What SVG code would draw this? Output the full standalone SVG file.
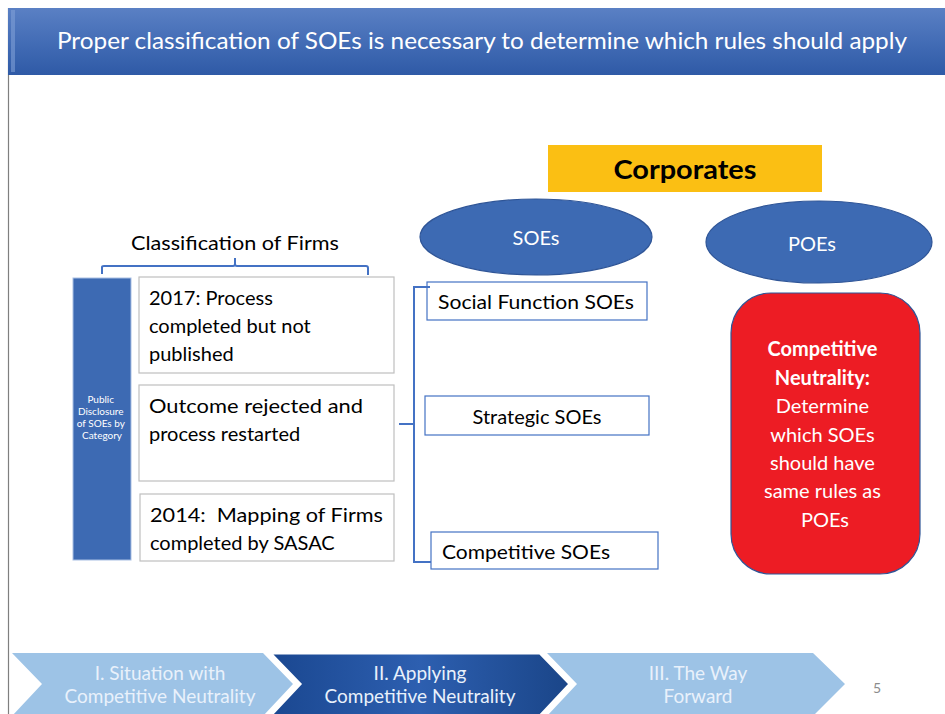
<svg xmlns="http://www.w3.org/2000/svg" width="945" height="714" viewBox="0 0 945 714">
<defs>
<linearGradient id="hdr" x1="0" y1="0" x2="0" y2="1">
<stop offset="0" stop-color="#5a80c4"/>
<stop offset="0.6" stop-color="#3f69b3"/>
<stop offset="1" stop-color="#2f5aa6"/>
</linearGradient>
<linearGradient id="dark" x1="0" y1="0" x2="1" y2="0">
<stop offset="0" stop-color="#1a4790"/>
<stop offset="0.5" stop-color="#2d5fb0"/>
<stop offset="1" stop-color="#1a4588"/>
</linearGradient>
</defs>
<style>
text{font-family:Lato,"Open Sans","Liberation Sans",sans-serif}
.box{fill:#ffffff;stroke:#bfbfbf;stroke-width:1.2}
.bbox{fill:#ffffff;stroke:#4472c4;stroke-width:1.2}
.t20{font-size:20px;fill:#000000}
.w20{font-size:20px;fill:#ffffff}
.ell{fill:#3d6ab3;stroke:#2f5597;stroke-width:1.2}
.conn{fill:none;stroke:#4472c4;stroke-width:2}
.chev{font-size:19px;fill:#e9f1fb;text-anchor:middle}
</style>
<rect width="945" height="714" fill="#ffffff"/>
<line x1="8.5" y1="8" x2="8.5" y2="714" stroke="#7f7f7f" stroke-width="1.2"/>

<g id="header">
<rect x="8" y="8" width="937" height="67" fill="url(#hdr)"/>
<rect x="11" y="10" width="4" height="62" fill="#7f9fd6" opacity="0.6"/>
<text x="482" y="49" font-size="23" fill="#ffffff" text-anchor="middle" textLength="850" lengthAdjust="spacingAndGlyphs">Proper classification of SOEs is necessary to determine which rules should apply</text>
</g>

<g id="corporates">
<rect x="548" y="145" width="274" height="47" fill="#fbbf13"/>
<text x="685" y="179" font-size="27" font-weight="bold" fill="#000000" text-anchor="middle" textLength="143" lengthAdjust="spacingAndGlyphs">Corporates</text>
</g>

<g id="soes">
<ellipse cx="536" cy="237" rx="116" ry="38" class="ell"/>
<text x="536" y="245" class="w20" text-anchor="middle">SOEs</text>
</g>

<g id="poes">
<ellipse cx="819" cy="242" rx="113" ry="41" class="ell"/>
<text x="812" y="251" class="w20" text-anchor="middle">POEs</text>
</g>

<g id="classification">
<text x="235" y="250" class="t20" text-anchor="middle" textLength="208" lengthAdjust="spacingAndGlyphs">Classification of Firms</text>
</g>

<g id="public-disclosure">
<rect x="73" y="278" width="58" height="282" fill="#3d6ab3" stroke="#a9bfe3" stroke-width="1"/>
<text font-size="10" fill="#ffffff" text-anchor="middle">
<tspan x="102" y="403">Public</tspan>
<tspan x="102" y="415">Disclosure</tspan>
<tspan x="102" y="427">of SOEs by</tspan>
<tspan x="102" y="439">Category</tspan>
</text>
</g>

<g id="box-2017">
<rect x="139" y="277" width="255" height="96" class="box"/>
<text class="t20">
<tspan x="149" y="305">2017: Process</tspan>
<tspan x="149" y="333">completed but not</tspan>
<tspan x="149" y="361">published</tspan>
</text>
</g>

<g id="box-outcome">
<rect x="139" y="385" width="255" height="96" class="box"/>
<text class="t20">
<tspan x="149" y="413" textLength="214" lengthAdjust="spacingAndGlyphs">Outcome rejected and</tspan>
<tspan x="149" y="441">process restarted</tspan>
</text>
</g>

<g id="box-2014">
<rect x="140" y="494" width="254" height="67" class="box"/>
<text class="t20">
<tspan x="150" y="522" textLength="233" lengthAdjust="spacingAndGlyphs" xml:space="preserve">2014:  Mapping of Firms</tspan>
<tspan x="150" y="550">completed by SASAC</tspan>
</text>
</g>

<g id="social">
<rect x="427" y="282" width="220" height="38" class="bbox"/>
<text x="438" y="309" class="t20" textLength="196" lengthAdjust="spacingAndGlyphs">Social Function SOEs</text>
</g>

<g id="strategic">
<rect x="425" y="396" width="224" height="39" class="bbox"/>
<text x="537" y="424" class="t20" text-anchor="middle">Strategic SOEs</text>
</g>

<g id="competitive">
<rect x="431" y="532" width="227" height="37" class="bbox"/>
<text x="442" y="559" class="t20" textLength="168" lengthAdjust="spacingAndGlyphs">Competitive SOEs</text>
</g>

<g id="neutrality">
<rect x="731" y="293" width="189" height="281" rx="40" ry="40" fill="#ed1c24" stroke="#2f5597" stroke-width="1.2"/>
<text class="w20" text-anchor="middle">
<tspan x="825" y="356" font-weight="bold">Competitive</tspan>
<tspan x="825" y="385" font-weight="bold">Neutrality:</tspan>
<tspan x="825" y="413">Determine</tspan>
<tspan x="825" y="442">which SOEs</tspan>
<tspan x="825" y="470">should have</tspan>
<tspan x="825" y="498">same rules as</tspan>
<tspan x="825" y="527">POEs</tspan>
</text>
</g>

<g id="connectors">
<path class="conn" d="M102,274 V267 Q102,266 104,266 H233 Q235,266 235,264 V258 M235,264 Q235,266 237,266 H366 Q368,266 368,268 V275" stroke-width="1.3"/>
<path class="conn" d="M430,287 H414 V562 H431 M399,424 H414"/>
</g>

<g id="nav">
<path d="M12,653 H263 L293,684 L263,716 H12 L42,684 Z" fill="#9dc3e6"/>
<path d="M270,653 H540 L570,684 L540,716 H270 L300,684 Z" fill="url(#dark)" stroke="#ffffff" stroke-width="3"/>
<path d="M547,653 H813 L845,684 L813,716 H547 L577,684 Z" fill="#9dc3e6"/>
<text class="chev"><tspan x="160" y="680">I. Situation with</tspan><tspan x="160" y="703">Competitive Neutrality</tspan></text>
<text class="chev"><tspan x="420" y="680">II. Applying</tspan><tspan x="420" y="703">Competitive Neutrality</tspan></text>
<text class="chev"><tspan x="698" y="680">III. The Way</tspan><tspan x="698" y="703">Forward</tspan></text>
<text x="877" y="693" font-size="14" fill="#8c8c8c" text-anchor="middle">5</text>
</g>
</svg>
